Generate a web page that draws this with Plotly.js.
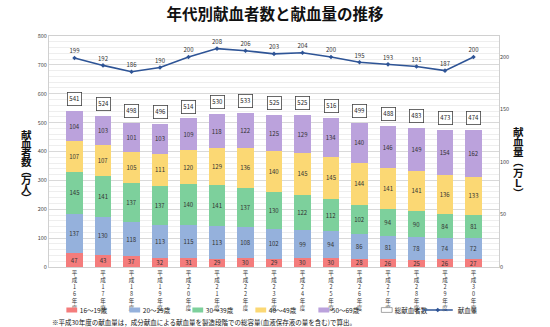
<!DOCTYPE html>
<html><head><meta charset="utf-8">
<script src="https://cdn.plot.ly/plotly-3.0.1.min.js"></script>
<style>html,body{margin:0;padding:0;background:#fff}#c{width:550px;height:327px}</style>
</head><body><div id="c"></div>
<script>
const years = ['平成16年度','平成17年度','平成18年度','平成19年度','平成20年度','平成21年度','平成22年度','平成23年度','平成24年度','平成25年度','平成26年度','平成27年度','平成28年度','平成29年度','平成30年度'];
const age16_19 = [47,43,37,32,31,29,30,29,30,30,28,26,25,26,27];
const age20_29 = [137,130,118,113,115,113,108,102,99,94,86,81,78,74,72];
const age30_39 = [145,141,137,137,140,141,137,130,122,112,102,94,90,84,81];
const age40_49 = [107,107,105,111,120,129,136,140,145,145,144,141,141,136,133];
const age50_69 = [104,103,101,103,109,118,122,125,129,134,140,146,149,154,162];
const totals = [541,524,498,496,514,530,533,525,525,516,499,488,483,473,474];
const volume = [199,192,186,190,200,208,206,203,204,200,195,193,191,187,200];
const seriesNames = ['16～19歳','20～29歳','30～39歳','40～49歳','50～69歳'];
const tickLabels = years.map(s => s.split('').join('<br>'));

const FONT = '"Noto Sans CJK JP", "Noto Sans", sans-serif';
const colors = ['#f47c7c','#95b1dc','#7dd09c','#fbd874','#bba2dc'];
const ageData = [age16_19, age20_29, age30_39, age40_49, age50_69];

const traces = ageData.map((d,i) => ({
  type:'bar', name:seriesNames[i], x:years, y:d,
  text:d.map(String), textposition:'inside', insidetextanchor:'middle',
  textangle:0, constraintext:'none',
  textfont:{size:6, color:'#333', family:FONT},
  marker:{color:colors[i], line:{width:0}}, hoverinfo:'skip'
}));
traces.push({
  type:'bar', name:'総献血者数', x:years, y:years.map(()=>null),
  marker:{color:'#fff', line:{color:'#777', width:1}}, hoverinfo:'skip'
});
traces.push({
  type:'scatter', name:'献血量', x:years, y:volume, yaxis:'y2',
  mode:'lines+markers+text', text:volume.map(String), textposition:'top center',
  textfont:{size:6, color:'#333', family:FONT},
  line:{color:'#2e5496', width:1.6}, marker:{color:'#2e5496', size:3.5, symbol:'diamond'},
  cliponaxis:false, hoverinfo:'skip'
});

const annotations = totals.map((t,i) => ({
  x:years[i], y:t, xref:'x', yref:'y', yanchor:'bottom', yshift:5,
  text:String(t), showarrow:false, font:{size:6, color:'#222', family:FONT},
  bordercolor:'#444', borderwidth:0.8, borderpad:1.5, bgcolor:'#fff'
}));
const L = 36, H = 231;
function vtitle(str, xpx, startPx, step){
  str.split('').forEach((c,i) => annotations.push({
    xref:'paper', yref:'paper', x:(xpx-49)/450, y:1-((startPx+i*step)-L)/H,
    text:c, showarrow:false, xanchor:'center', yanchor:'middle',
    font:{size:10.5, color:'#111', family:FONT, weight:'bold'}
  }));
}
vtitle('献血者数︵万人︶', 26, 134, 9.1);
vtitle('献血量︵万Ｌ︶', 518, 131, 10.3);
annotations.push({
  xref:'paper', yref:'paper', x:(50-49)/450, y:1-(322-L)/H, xanchor:'left', yanchor:'middle',
  text:'※平成30年度の献血量は，成分献血による献血量を製造段階での総容量(血液保存液の量を含む)で算出。',
  showarrow:false, font:{size:6.5, color:'#111', family:FONT}
});

const layout = {
  width:550, height:327, margin:{l:49, r:51, t:36, b:60, autoexpand:false},
  paper_bgcolor:'#fff', plot_bgcolor:'#fff',
  font:{family:FONT, color:'#333'},
  title:{text:'<b>年代別献血者数と献血量の推移</b>', x:0.5, xanchor:'center', y:0.955, yanchor:'middle',
         font:{size:15.5, color:'#111', family:FONT}},
  barmode:'stack', bargap:0.43, showlegend:true,
  legend:{orientation:'h', x:-0.0005, xanchor:'left', y:1-(310-L)/H, yanchor:'middle',
          font:{size:6.5, color:'#222', family:FONT}, entrywidth:18, traceorder:'normal',
          itemwidth:30, bgcolor:'rgba(0,0,0,0)', tracegroupgap:0, borderwidth:0},
  xaxis:{type:'category', tickmode:'array', tickvals:years, ticktext:tickLabels, automargin:false,
         tickfont:{size:5.5, color:'#333'}, showline:true, mirror:true, linecolor:'#d0d0d0',
         ticks:'', tickangle:0, fixedrange:true},
  yaxis:{range:[0,800], dtick:100, tickfont:{size:5.5, color:'#444'}, gridcolor:'#d9d9d9', automargin:false,
         minor:{dtick:20, showgrid:true, gridcolor:'#eeeeee'},
         showline:true, mirror:true, linecolor:'#d0d0d0', zeroline:false, ticks:'', fixedrange:true},
  yaxis2:{overlaying:'y', side:'right', range:[0,220], tickvals:[0,50,100,150,200], automargin:false,
          tickfont:{size:5.5, color:'#444'}, showgrid:false, zeroline:false, ticks:'', fixedrange:true},
  annotations:annotations
};
Plotly.newPlot('c', traces, layout, {staticPlot:true, displayModeBar:false}).then(gd => {
  const leg = gd.querySelector('.legend');
  if (leg) {
    leg.setAttribute('transform', 'translate(-9,0) ' + (leg.getAttribute('transform') || ''));
  }
  gd.querySelectorAll('.legend .traces .legendpoints path.legendundefined, .legend .traces .legendpoints .legendbar').forEach(p => {
    p.setAttribute('transform', 'translate(32,0) scale(0.9,0.4)');
  });
});
</script></body></html>
